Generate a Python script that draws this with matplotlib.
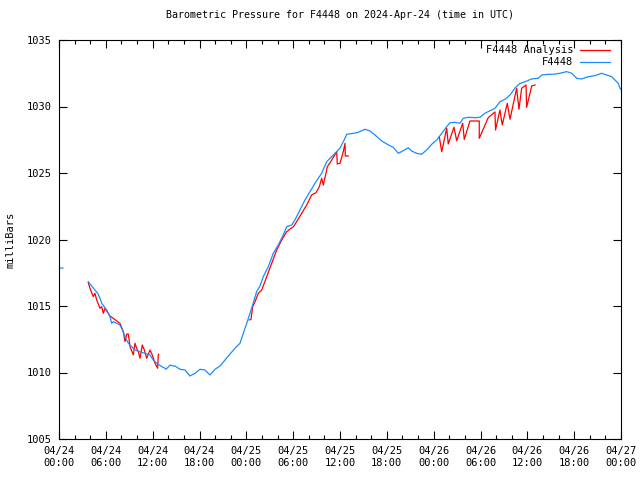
import matplotlib
matplotlib.use("Agg")
import matplotlib.pyplot as plt
import matplotlib.dates as mdates
import numpy as np
from datetime import datetime, timedelta

# hours since 2024-04-24 00:00 UTC, pressure in mb
obs_hours = [0.0, 0.5, 0.6,
             3.75, 4.19, 4.61, 4.96, 5.25, 5.47, 5.80, 6.11, 6.32, 6.53, 6.75, 6.96,
             7.39, 7.81, 8.03, 8.46, 8.88, 9.31, 9.74, 10.38, 11.02, 11.66, 12.08,
             12.52, 13.16, 13.58, 13.71, 14.22, 14.64, 14.86, 15.50, 16.14, 16.78,
             17.42, 18.06, 18.70, 19.34, 19.98, 20.63, 21.27, 21.91, 22.55, 23.19,
             23.61, 24.05, 24.47, 24.89, 25.33, 25.75, 26.17, 26.81, 27.45, 28.09,
             28.73, 29.17, 29.81, 30.23, 30.87, 31.51, 32.15, 32.80, 33.65, 34.29,
             35.14, 35.99, 36.64, 36.86, 37.70, 38.34, 39.20, 39.84, 40.48, 41.34,
             42.19, 42.83, 43.47, 44.11, 44.75, 45.18, 45.82, 46.46, 47.10, 47.75,
             48.39, 49.03, 49.67, 50.09, 50.73, 51.37, 51.79, 52.43, 53.29, 53.93,
             54.57, 55.21, 55.85, 56.49, 57.14, 57.78, 58.42, 59.06, 59.70, 60.56,
             61.40, 61.84, 62.68, 63.32, 64.18, 65.04, 65.68, 66.32, 66.96, 67.81,
             68.67, 69.52, 70.16, 70.80, 71.23, 71.65, 71.87, 72.0]
obs_mb = [1017.85, 1017.85, np.nan,
          1016.83, 1016.50, 1016.20, 1015.95, 1015.58, 1015.20, 1014.95, 1014.70, 1014.45, 1014.20, 1013.70, 1013.82,
          1013.70, 1013.57, 1013.32, 1012.69, 1012.20, 1011.94, 1011.69, 1011.56, 1011.44, 1011.32, 1010.94,
          1010.70, 1010.44, 1010.32, 1010.24, 1010.56, 1010.49, 1010.49, 1010.24, 1010.19, 1009.74,
          1009.94, 1010.24, 1010.19, 1009.81, 1010.24, 1010.49, 1010.94, 1011.39, 1011.82, 1012.20,
          1012.95, 1013.70, 1014.45, 1015.23, 1016.09, 1016.50, 1017.20, 1017.95, 1018.96, 1019.59,
          1020.34, 1020.96, 1021.09, 1021.47, 1022.22, 1022.97, 1023.59, 1024.23, 1024.98, 1025.85,
          1026.35, 1026.86, 1027.61, 1027.91, 1027.98, 1028.06, 1028.29, 1028.16, 1027.86, 1027.41,
          1027.11, 1026.93, 1026.48, 1026.68, 1026.90, 1026.65, 1026.48, 1026.41, 1026.73, 1027.16,
          1027.48, 1027.98, 1028.48, 1028.78, 1028.81, 1028.74, 1029.11, 1029.19, 1029.16, 1029.19,
          1029.49, 1029.68, 1029.86, 1030.36, 1030.54, 1030.86, 1031.39, 1031.74, 1031.86, 1032.07,
          1032.12, 1032.37, 1032.42, 1032.42, 1032.50, 1032.62, 1032.50, 1032.12, 1032.07, 1032.24,
          1032.32, 1032.50, 1032.37, 1032.24, 1031.99, 1031.74, 1031.37, 1031.30]

ana_hours = [3.75, 3.97, 4.39, 4.61, 4.83, 5.25, 5.47, 5.68, 5.89, 6.53, 7.81, 8.24,
             8.46, 8.67, 8.88, 9.10, 9.52, 9.74, 9.95, 10.16, 10.38, 10.67, 10.93,
             11.23, 11.66, 11.95, 12.30, 12.64, 12.72, 12.77, 12.8,
             24.38, 24.60, 24.81, 25.11, 25.53, 25.97, 26.61, 27.25, 27.89, 28.53,
             29.17, 30.02, 30.45, 31.09, 31.73, 32.37, 32.92, 33.35, 33.65, 33.86,
             34.20, 34.37, 34.81, 35.58, 35.65, 36.00, 36.42, 36.64, 36.68, 37.06, 37.1,
             48.72, 49.03, 49.67, 49.87, 50.60, 50.95, 51.72, 51.92, 52.65, 53.84,
             53.84, 54.99, 55.85, 55.93, 56.49, 56.79, 57.43, 57.78, 58.63, 58.93,
             59.27, 59.83, 59.91, 60.56, 60.98]
ana_mb = [1016.75, 1016.33, 1015.70, 1015.95, 1015.45, 1014.83, 1014.95, 1014.45, 1014.83, 1014.25, 1013.70, 1013.07,
          1012.32, 1012.89, 1012.89, 1011.94, 1011.32, 1012.20, 1011.82, 1011.56, 1011.07, 1012.07, 1011.69,
          1011.07, 1011.69, 1011.32, 1010.69, 1010.32, 1011.32, 1011.37, np.nan,
          1013.95, 1014.00, 1014.95, 1015.32, 1015.95, 1016.20, 1017.20, 1018.21, 1019.21, 1019.96,
          1020.59, 1020.96, 1021.34, 1021.97, 1022.59, 1023.35, 1023.52, 1023.97, 1024.60, 1024.10,
          1024.98, 1025.47, 1025.85, 1026.60, 1025.68, 1025.73, 1026.60, 1027.23, 1026.28, 1026.28, np.nan,
          1027.73, 1026.60, 1028.36, 1027.18, 1028.44, 1027.43, 1028.74, 1027.53, 1028.91, 1028.91,
          1027.61, 1029.16, 1029.59, 1028.23, 1029.74, 1028.61, 1030.24, 1029.04, 1031.37, 1029.79,
          1031.37, 1031.62, 1029.94, 1031.54, 1031.62]

start = datetime(2024, 4, 24)
obs_t = [start + timedelta(hours=h) for h in obs_hours]
ana_t = [start + timedelta(hours=h) for h in ana_hours]

plt.rcParams['font.family'] = 'DejaVu Sans Mono'
plt.rcParams['font.size'] = 7.5

fig = plt.figure(figsize=(6.4, 4.8), dpi=100)
ax = fig.add_axes([59 / 640, 1 - 439 / 480, 562 / 640, 399 / 480])

ax.plot(ana_t, ana_mb, color='#ff0000', lw=0.9, label='F4448 Analysis')
ax.plot(obs_t, obs_mb, color='#1a8cff', lw=0.9, label='F4448')

ax.set_xlim(start, start + timedelta(hours=72))
ax.set_ylim(1005, 1035)
ax.set_yticks(np.arange(1005, 1036, 5))
ax.xaxis.set_major_locator(mdates.HourLocator(byhour=[0, 6, 12, 18]))
ax.xaxis.set_minor_locator(mdates.HourLocator(byhour=range(0, 24, 2)))
ax.xaxis.set_major_formatter(mdates.DateFormatter('%m/%d\n%H:%M'))
ax.tick_params(which='both', direction='in', top=True, right=True, width=0.8, colors='black')
ax.tick_params(which='major', length=6, pad=5)
ax.tick_params(which='minor', length=3)
for s in ax.spines.values():
    s.set_linewidth(0.8)

ax.set_ylabel('milliBars', labelpad=8)
ax.set_title('Barometric Pressure for F4448 on 2024-Apr-24 (time in UTC)', fontsize=7.2, pad=16)

ax.legend(loc='upper right', bbox_to_anchor=(0.9875, 0.997), markerfirst=False,
          frameon=False, handlelength=2.9, borderaxespad=0, labelspacing=0.2,
          handletextpad=0.6)

fig.savefig('out.png', dpi=100)
